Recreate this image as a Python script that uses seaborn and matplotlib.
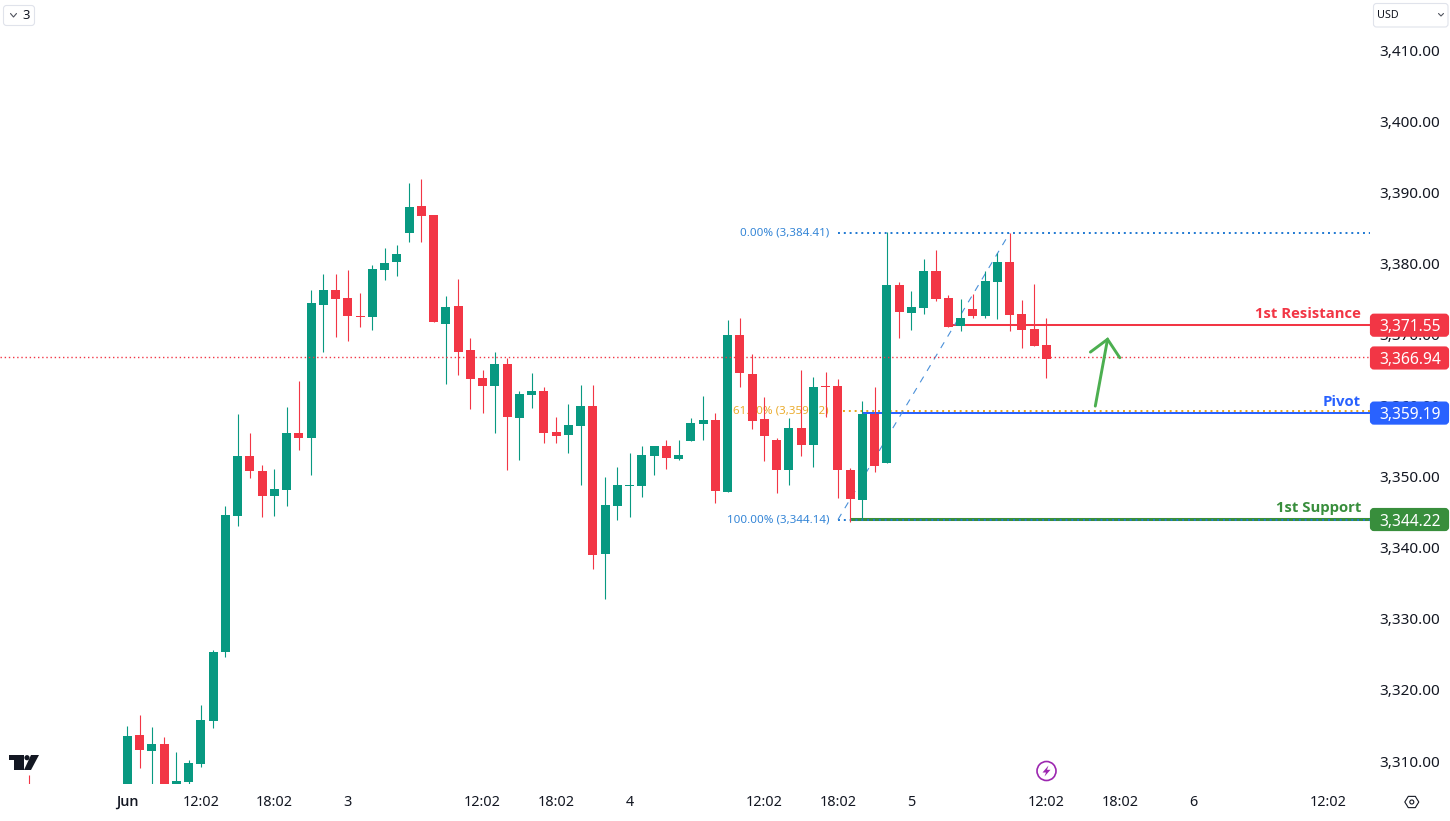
import numpy as np
import pandas as pd
import seaborn as sns
import matplotlib.pyplot as plt
from matplotlib.patches import Circle, FancyBboxPatch, Polygon
from matplotlib.transforms import Affine2D, IdentityTransform

# hourly candles, index 0 is the first visible one on Jun 1 (a few opens/lows sit below the axis)
open_prices = [
    3303.00, 3313.84, 3311.59, 3312.58, 3306.50, 3307.23, 3309.76, 3315.81, 3325.52, 3344.65,
    3353.08, 3350.97, 3347.46, 3348.30, 3356.32, 3355.62, 3374.32, 3376.43, 3375.31, 3372.77,
    3372.63, 3379.24, 3380.37, 3384.45, 3388.25, 3386.98, 3371.65, 3374.18, 3367.99, 3364.05,
    3362.93, 3366.02, 3358.43, 3361.66, 3362.23, 3356.46, 3356.04, 3357.30, 3360.12, 3339.30,
    3346.05, 3348.86, 3348.86, 3353.08, 3354.49, 3352.66, 3355.19, 3357.59, 3358.15, 3348.02,
    3370.10, 3364.62, 3358.29, 3355.33, 3351.11, 3357.02, 3354.63, 3362.93, 3362.93, 3351.11,
    3346.90, 3358.99, 3352.10, 3377.13, 3373.20, 3373.90, 3379.10, 3375.31, 3371.37, 3373.76,
    3372.77, 3377.56, 3380.37, 3373.06, 3370.95, 3368.70,
]
high_prices = [
    3315.11, 3316.66, 3314.97, 3313.56, 3311.45, 3310.33, 3318.06, 3325.80, 3346.05, 3358.99,
    3356.32, 3351.82, 3351.26, 3359.98, 3363.63, 3376.43, 3378.68, 3378.68, 3379.24, 3376.01,
    3379.95, 3382.34, 3382.76, 3391.48, 3392.04, 3386.98, 3375.59, 3377.98, 3369.68, 3365.18,
    3367.71, 3366.87, 3362.23, 3364.76, 3362.79, 3358.57, 3360.40, 3363.07, 3363.07, 3350.13,
    3351.54, 3353.51, 3354.49, 3354.49, 3355.33, 3355.33, 3358.43, 3361.52, 3359.13, 3372.21,
    3372.49, 3367.43, 3361.38, 3355.62, 3358.43, 3365.18, 3364.19, 3364.90, 3363.91, 3351.40,
    3360.82, 3362.79, 3384.59, 3377.56, 3376.29, 3380.79, 3382.06, 3375.73, 3375.17, 3375.87,
    3379.10, 3381.64, 3384.45, 3375.03, 3377.28, 3372.49,
]
low_prices = [
    3301.00, 3309.20, 3305.50, 3304.50, 3306.00, 3306.90, 3309.34, 3314.83, 3324.81, 3343.24,
    3349.99, 3344.50, 3344.65, 3346.05, 3353.93, 3350.41, 3367.71, 3369.82, 3369.26, 3371.23,
    3370.81, 3377.84, 3378.40, 3383.18, 3383.18, 3371.93, 3363.21, 3364.47, 3359.70, 3359.13,
    3356.32, 3351.11, 3352.52, 3359.84, 3354.91, 3354.91, 3353.51, 3349.00, 3337.19, 3332.97,
    3344.08, 3344.50, 3347.32, 3350.41, 3351.26, 3352.52, 3355.19, 3355.33, 3346.47, 3348.02,
    3362.79, 3356.88, 3352.38, 3347.88, 3349.00, 3353.08, 3351.54, 3358.57, 3347.18, 3343.80,
    3344.22, 3350.83, 3352.10, 3369.68, 3370.81, 3373.06, 3374.89, 3371.23, 3370.67, 3372.49,
    3372.49, 3372.35, 3370.67, 3368.27, 3368.55, 3364.05,
]
close_prices = [
    3313.70, 3311.73, 3312.58, 3305.00, 3307.37, 3309.90, 3315.95, 3325.52, 3344.79, 3353.08,
    3350.97, 3347.46, 3348.44, 3356.32, 3355.62, 3374.60, 3376.43, 3375.17, 3372.77, 3372.63,
    3379.39, 3380.23, 3381.50, 3388.11, 3386.84, 3371.93, 3374.04, 3367.71, 3363.91, 3362.93,
    3366.02, 3358.57, 3361.80, 3362.23, 3356.32, 3355.90, 3357.44, 3360.12, 3339.16, 3346.19,
    3349.00, 3349.00, 3353.22, 3354.49, 3352.80, 3353.22, 3357.73, 3358.15, 3348.16, 3370.10,
    3364.76, 3358.01, 3355.90, 3351.11, 3357.02, 3354.63, 3362.79, 3362.79, 3351.11, 3347.04,
    3358.99, 3351.68, 3377.13, 3373.34, 3374.04, 3379.10, 3375.17, 3371.23, 3372.49, 3372.77,
    3377.70, 3380.37, 3372.92, 3370.81, 3368.55, 3366.73,
]
# lone wick sticking up behind the logo
stray_wick_idx = -8
stray_wick_high = 3308.22

x_tick_idx = [0, 6, 12, 18, 29, 35, 41, 52, 58, 64, 75, 81, 87, 98]
x_tick_labels = ["Jun", "12:02", "18:02", "3", "12:02", "18:02", "4",
                 "12:02", "18:02", "5", "12:02", "18:02", "6", "12:02"]
y_ticks = [3310, 3320, 3330, 3340, 3350, 3360, 3370, 3380, 3390, 3400, 3410]

current_price = 3366.94
level_names = ["1st Resistance", "Pivot", "1st Support"]
level_prices = [3371.55, 3359.19, 3344.22]
level_start_idx = [67.4, 60, 59]
fib_labels = ["0.00% (3,384.41)", "61.80% (3,359.52)", "100.00% (3,344.14)"]
fib_prices = [3384.41, 3359.42, 3344.14]
fib_start_idx = [58, 58.4, 58]
fib_trend_idx = [58, 72]
fib_trend_prices = [3344.14, 3384.41]
arrow_idx = [79, 80]
arrow_prices = [3360.1, 3369.5]
arrow_head_idx = [78.6, 80, 81]
arrow_head_prices = [3367.7, 3369.5, 3366.9]

GREEN = "#089981"
RED = "#F23645"
BLUE = "#2962FF"
SUPPORT = "#388E3C"
ORANGE = "#E8A317"
FIB = "#1E78D2"
TEXT = "#131722"

sns.set_theme(style="white")
plt.rcParams["font.family"] = ["Noto Sans", "DejaVu Sans"]
heavy_font = ["Open Sans", "DejaVu Sans"]

df = pd.DataFrame({"open": open_prices, "high": high_prices, "low": low_prices, "close": close_prices})
df["idx"] = np.arange(len(df))
df["bottom"] = df[["open", "close"]].min(axis=1)
df["body"] = (df["close"] - df["open"]).abs()
up = df[df["close"] >= df["open"]]
down = df[df["close"] < df["open"]]

fig = plt.figure(figsize=(14.5, 8.21), dpi=100, facecolor="white")
ax = fig.add_axes([0, 37 / 821, 1370 / 1450, 784 / 821])

sns.barplot(data=up, x="idx", y="body", bottom=up["bottom"].values, color=GREEN, saturation=1,
            native_scale=True, orient="x", width=0.736, errorbar=None, linewidth=0, zorder=5, ax=ax)
sns.barplot(data=down, x="idx", y="body", bottom=down["bottom"].values, color=RED, saturation=1,
            native_scale=True, orient="x", width=0.736, errorbar=None, linewidth=0, zorder=5, ax=ax)
ax.vlines(up["idx"], up["low"], up["high"], colors=GREEN, linewidth=0.8, zorder=4, snap=True)
ax.vlines(down["idx"], down["low"], down["high"], colors=RED, linewidth=0.8, zorder=4, snap=True)
ax.vlines(stray_wick_idx, 3300, stray_wick_high, colors=RED, linewidth=0.8, zorder=4, snap=True)

x_left, x_right = -10.39, 101.42
ax.set_xlim(x_left, x_right)
ax.set_ylim(3306.95, 3417.22)

# level lines, fib on top of them, candles on top of both
level_colors = [RED, BLUE, SUPPORT]
level_widths = [1.45, 1.45, 2.2]
for name, price, start, col, lw in zip(level_names, level_prices, level_start_idx, level_colors, level_widths):
    ax.hlines(price, start, x_right, colors=col, linewidth=lw, zorder=2)
    ax.text(100.7, price + 1.55, name, color=col, ha="right", va="center", fontsize=10.7,
            family=heavy_font, fontweight="bold", zorder=7)

fib_colors = [FIB, ORANGE, FIB]
for label, price, start, col in zip(fib_labels, fib_prices, fib_start_idx, fib_colors):
    ax.hlines(price, start, x_right, colors=col, linewidth=1.4, linestyles=(0, (1, 2)), zorder=3)
    ax.text(57.27, price, label, color=col, ha="right", va="center", fontsize=8.3, alpha=0.9, zorder=3)
ax.plot(fib_trend_idx, fib_trend_prices, color="#4A90D9", linewidth=0.8, linestyle=(0, (6, 6)), zorder=3)

ax.hlines(current_price, x_left, x_right, colors=RED, linewidth=1.0, linestyles=(0, (1, 2)), zorder=6)

ax.plot(arrow_idx, arrow_prices, color="#4CAF50", linewidth=2.1, solid_capstyle="round", zorder=6)
ax.plot(arrow_head_idx, arrow_head_prices, color="#4CAF50", linewidth=2.1, solid_capstyle="round",
        solid_joinstyle="miter", zorder=6)

ax.yaxis.tick_right()
ax.set_yticks(y_ticks)
ax.set_yticklabels([f"{v:,.2f}" for v in y_ticks])
ax.set_xticks(x_tick_idx)
ax.set_xticklabels(x_tick_labels)
ax.tick_params(axis="y", length=0, pad=6.6, labelsize=11, labelcolor=TEXT)
ax.tick_params(axis="x", length=0, pad=7.7, labelsize=10.4, labelcolor=TEXT)
# tick_right puts the visible labels on label2, nudge them up a touch
for tick in ax.yaxis.get_major_ticks():
    tick.label2.set_verticalalignment("center_baseline")
    tick.label2.set_transform(tick.label2.get_transform() + Affine2D().translate(0, 1.3))
jun_label = ax.get_xticklabels()[0]
jun_label.set_family(heavy_font)
jun_label.set_fontweight("semibold")
jun_label.set_fontsize(10.4)
ax.set_xlabel("")
ax.set_ylabel("")
sns.despine(ax=ax, left=True, bottom=True, right=True, top=True)

# price tags on the scale
tag_prices = [level_prices[0], current_price, level_prices[1], level_prices[2]]
tag_colors = [RED, RED, BLUE, SUPPORT]
for price, col in zip(tag_prices, tag_colors):
    yc = ax.transData.transform((0, price))[1] - 0.5
    fig.add_artist(FancyBboxPatch((1372, yc - 9.5), 75, 19, boxstyle="round,pad=0,rounding_size=2",
                                  mutation_aspect=1, facecolor=col, edgecolor=col, linewidth=3,
                                  transform=IdentityTransform(), zorder=5))
    fig.text(1410.5 / 1450, yc / 821, f"{price:,.2f}", color="white", ha="center", va="center_baseline",
             fontsize=11.2, zorder=6)

# chart furniture, drawn in image pixels from the top left
px = Affine2D().scale(1, -1).translate(0, 821)


def box(x0, y0, x1, y1):
    fig.add_artist(FancyBboxPatch((x0, y0), x1 - x0, y1 - y0, boxstyle="round,pad=0,rounding_size=3",
                                  facecolor="white", edgecolor="#E0E3EB", linewidth=0.8,
                                  transform=px, zorder=6))


def stroke(xs, ys, col, lw=0.8):
    fig.add_artist(plt.Line2D(xs, ys, color=col, linewidth=lw, transform=px, zorder=7))


box(3.5, 5.5, 34.5, 25.5)
stroke([10.5, 13.5, 16.5], [13.5, 17, 13.5], "#50535E")
fig.text(26 / 1450, 1 - 15.5 / 821, "3", color=TEXT, ha="center", va="center", fontsize=9.4, zorder=7)
box(1373.5, 3.5, 1448, 27)
fig.text(1377 / 1450, 1 - 15 / 821, "USD", color=TEXT, ha="left", va="center", fontsize=7.8, zorder=7)
stroke([1438.5, 1441, 1443.5], [13.5, 16, 13.5], "#50535E")

# logo
for pts in ([(9, 755), (24, 755), (24, 770), (14, 770), (14, 760), (9, 760)],
            [(31, 755), (39, 755), (31, 770), (24, 770)]):
    fig.add_artist(Polygon(pts, closed=True, facecolor="#131722", edgecolor="none", transform=px, zorder=6))
fig.add_artist(Circle((27, 757.7), 2.6, facecolor="#131722", edgecolor="none", transform=px, zorder=6))

# lightning badge
fig.add_artist(Circle((1046.5, 771), 9.5, facecolor="white", edgecolor="#9C27B0", linewidth=1.2,
                      transform=px, zorder=6))
fig.add_artist(Polygon([(1048.5, 765.5), (1042.5, 772.5), (1046, 772.5), (1044.5, 776.5),
                        (1050.5, 769.8), (1047, 769.8)], closed=True, facecolor="#9C27B0",
                       edgecolor="none", transform=px, zorder=7))

# settings hexagon
hex_angles = np.deg2rad(np.arange(0, 360, 60))
fig.add_artist(Polygon(np.c_[1411.8 + 7 * np.cos(hex_angles), 802 + 6.5 * np.sin(hex_angles)], closed=True,
                       facecolor="white", edgecolor=TEXT, linewidth=0.8, transform=px, zorder=6))
fig.add_artist(Circle((1411.8, 802), 2, facecolor="white", edgecolor=TEXT, linewidth=0.8, transform=px, zorder=7))

fig.savefig("out.png", dpi=100)
